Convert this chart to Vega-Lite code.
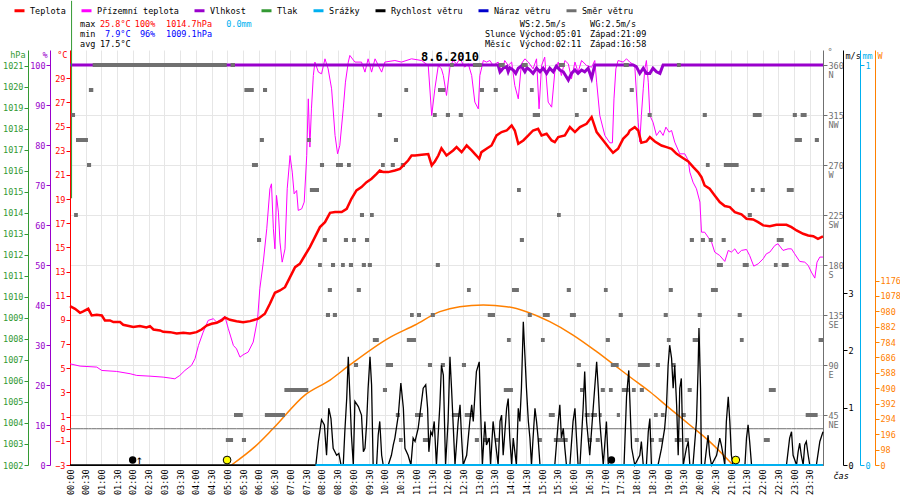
{
  "$schema": "https://vega.github.io/schema/vega-lite/v6.json",
  "description": "Weather station day chart 8.6.2010",
  "width": 753,
  "height": 415,
  "autosize": {"type": "none"},
  "padding": {"left": 70, "top": 50, "right": 77, "bottom": 35},
  "background": "white",
  "config": {
    "view": {"stroke": null},
    "font": "DejaVu Sans Mono",
    "axis": {
      "labelFont": "DejaVu Sans Mono", "labelFontSize": 8.5,
      "titleFont": "DejaVu Sans Mono", "titleFontSize": 8.5, "titleFontWeight": "normal",
      "grid": false, "tickSize": 4, "labelPadding": 1, "titleAngle": 0, "titleBaseline": "middle",
      "labelOverlap": false
    },
    "text": {"font": "DejaVu Sans Mono", "fontSize": 8.5}
  },
  "datasets": {
    "temp": [
      {"t":0,"v":10.14},{"t":0.16,"v":9.92},{"t":0.32,"v":9.59},{"t":0.42,"v":9.7},{"t":0.58,"v":9.92},{"t":0.69,"v":9.37},{"t":0.85,"v":9.43},{"t":1.01,"v":9.37},{"t":1.11,"v":8.96},{"t":1.27,"v":8.96},{"t":1.38,"v":8.82},{"t":1.59,"v":8.82},{"t":1.69,"v":8.6},{"t":2.01,"v":8.41},{"t":2.22,"v":8.49},{"t":2.43,"v":8.38},{"t":2.54,"v":8.49},{"t":2.65,"v":8.21},{"t":2.86,"v":8.13},{"t":2.96,"v":8.02},{"t":3.18,"v":7.99},{"t":3.39,"v":7.88},{"t":3.6,"v":7.94},{"t":3.81,"v":7.88},{"t":4.02,"v":7.99},{"t":4.18,"v":8.21},{"t":4.34,"v":8.54},{"t":4.5,"v":8.68},{"t":4.66,"v":8.77},{"t":4.82,"v":8.96},{"t":4.92,"v":9.21},{"t":5.08,"v":9.01},{"t":5.29,"v":8.9},{"t":5.5,"v":8.82},{"t":5.72,"v":8.9},{"t":5.98,"v":9.1},
      {"t":6.19,"v":9.51},{"t":6.35,"v":10.34},{"t":6.51,"v":11.25},{"t":6.67,"v":11.44},{"t":6.83,"v":11.71},{"t":6.99,"v":12.54},{"t":7.15,"v":13.37},{"t":7.3,"v":13.64},{"t":7.46,"v":14.33},{"t":7.62,"v":15.02},{"t":7.78,"v":15.85},{"t":7.94,"v":16.68},{"t":8.1,"v":17.09},{"t":8.26,"v":17.86},{"t":8.42,"v":17.92},{"t":8.63,"v":17.92},{"t":8.79,"v":18.19},{"t":8.94,"v":19.02},{"t":9.1,"v":19.71},{"t":9.26,"v":19.99},{"t":9.42,"v":20.4},{"t":9.58,"v":20.68},{"t":9.74,"v":21.09},{"t":9.84,"v":21.36},{"t":9.95,"v":21.23},{"t":10.11,"v":21.23},{"t":10.32,"v":21.36},{"t":10.48,"v":21.5},{"t":10.59,"v":21.78},{"t":10.74,"v":22.19},{"t":10.85,"v":22.6},{"t":10.96,"v":22.6},{"t":11.17,"v":22.66},{"t":11.38,"v":22.72},{"t":11.49,"v":21.78},{"t":11.59,"v":22.11},{"t":11.7,"v":22.6},{"t":11.8,"v":23.2},{"t":11.91,"v":22.8},
      {"t":11.96,"v":22.6},{"t":12.17,"v":23.02},{"t":12.28,"v":23.3},{"t":12.44,"v":22.88},{"t":12.6,"v":23.43},{"t":12.76,"v":23.02},{"t":12.91,"v":22.6},{"t":13.0,"v":22.33},{"t":13.07,"v":22.88},{"t":13.23,"v":23.16},{"t":13.39,"v":23.43},{"t":13.55,"v":24.26},{"t":13.71,"v":24.54},{"t":13.87,"v":24.67},{"t":14.03,"v":25.09},{"t":14.13,"v":24.67},{"t":14.24,"v":23.57},{"t":14.4,"v":23.85},{"t":14.56,"v":24.26},{"t":14.71,"v":24.67},{"t":14.87,"v":24.81},{"t":14.98,"v":24.26},{"t":15.14,"v":24.4},{"t":15.3,"v":23.85},{"t":15.4,"v":23.71},{"t":15.51,"v":24.12},{"t":15.72,"v":24.26},{"t":15.88,"v":24.95},{"t":16.04,"v":24.54},{"t":16.2,"v":24.95},{"t":16.41,"v":25.23},{"t":16.57,"v":25.78},{"t":16.73,"v":24.54},{"t":16.94,"v":23.85},{"t":17.1,"v":23.3},{"t":17.25,"v":22.83},{"t":17.41,"v":23.16},{"t":17.57,"v":23.98},{"t":17.73,"v":24.4},
      {"t":17.78,"v":24.67},{"t":17.94,"v":24.95},{"t":18.05,"v":24.67},{"t":18.15,"v":23.65},{"t":18.31,"v":23.76},{"t":18.42,"v":24.12},{"t":18.58,"v":23.76},{"t":18.79,"v":23.43},{"t":18.95,"v":23.3},{"t":19.11,"v":23.16},{"t":19.27,"v":22.74},{"t":19.48,"v":22.38},{"t":19.64,"v":22.11},{"t":19.8,"v":21.64},{"t":19.95,"v":21.23},{"t":20.06,"v":20.81},{"t":20.16,"v":20.12},{"t":20.32,"v":19.85},{"t":20.48,"v":19.3},{"t":20.64,"v":18.75},{"t":20.8,"v":18.42},{"t":20.96,"v":18.33},{"t":21.12,"v":17.92},{"t":21.33,"v":17.73},{"t":21.49,"v":17.37},{"t":21.7,"v":17.31},{"t":21.86,"v":17.09},{"t":22.02,"v":16.82},{"t":22.23,"v":16.76},{"t":22.44,"v":16.87},{"t":22.76,"v":16.87},{"t":22.92,"v":16.68},{"t":23.08,"v":16.4},{"t":23.29,"v":16.13},{"t":23.45,"v":15.99},{"t":23.61,"v":15.93},{"t":23.76,"v":15.71},{"t":23.92,"v":15.91}
    ],
    "ground": [
      {"t":0,"v":5.37},{"t":0.32,"v":5.18},{"t":0.85,"v":5.1},{"t":1.01,"v":4.82},{"t":1.48,"v":4.74},{"t":1.91,"v":4.55},{"t":2.12,"v":4.41},{"t":2.54,"v":4.35},{"t":2.96,"v":4.27},{"t":3.18,"v":4.19},{"t":3.33,"v":4.13},{"t":3.49,"v":4.41},{"t":3.65,"v":4.82},{"t":3.86,"v":5.24},{"t":3.97,"v":5.79},{"t":4.08,"v":6.89},{"t":4.23,"v":7.99},{"t":4.39,"v":8.96},{"t":4.55,"v":9.1},{"t":4.66,"v":8.82},{"t":4.82,"v":9.1},{"t":4.92,"v":9.29},{"t":5.03,"v":8.27},{"t":5.19,"v":6.89},{"t":5.29,"v":6.61},{"t":5.4,"v":5.92},{"t":5.5,"v":6.12},{"t":5.66,"v":6.34},{"t":5.82,"v":7.17},{"t":5.96,"v":9.1},
      {"t":6.03,"v":11.58},{"t":6.14,"v":13.78},{"t":6.25,"v":16.54},{"t":6.35,"v":19.85},{"t":6.4,"v":20.26},{"t":6.46,"v":16.54},{"t":6.51,"v":14.88},{"t":6.56,"v":19.3},{"t":6.62,"v":17.92},{"t":6.67,"v":15.44},{"t":6.74,"v":13.78},{"t":6.83,"v":14.88},{"t":6.9,"v":19.85},{"t":6.99,"v":22.6},{"t":7.06,"v":21.23},{"t":7.12,"v":19.43},{"t":7.2,"v":19.71},{"t":7.25,"v":18.06},{"t":7.36,"v":18.19},{"t":7.44,"v":18.75},{"t":7.52,"v":22.6},{"t":7.57,"v":27.29},{"t":7.62,"v":23.3},{"t":7.67,"v":26.46},{"t":7.73,"v":29.22},{"t":7.78,"v":30.33},{"t":7.89,"v":29.5},{"t":7.99,"v":29.36},{"t":8.1,"v":30.6},{"t":8.2,"v":29.77},{"t":8.31,"v":28.12},{"t":8.42,"v":24.26},{"t":8.5,"v":22.74},{"t":8.57,"v":23.43},{"t":8.68,"v":26.46},{"t":8.75,"v":28.67},{"t":8.84,"v":30.33},{"t":8.89,"v":30.88},{"t":9.05,"v":30.33},{"t":9.26,"v":30.33},{"t":9.37,"v":29.5},{"t":9.47,"v":30.6},{"t":9.58,"v":29.5},{"t":9.69,"v":30.6},{"t":9.9,"v":29.5},{"t":10.0,"v":30.33},{"t":10.32,"v":30.46},{"t":10.53,"v":30.33},{"t":10.85,"v":30.6},{"t":11.17,"v":30.46},{"t":11.38,"v":30.05},{"t":11.49,"v":25.91},{"t":11.59,"v":28.12},{"t":11.7,"v":30.05},{"t":11.8,"v":29.77},
      {"t":11.86,"v":29.22},{"t":11.96,"v":27.57},{"t":12.07,"v":29.91},{"t":12.17,"v":30.46},{"t":12.28,"v":30.19},{"t":12.39,"v":30.6},{"t":12.54,"v":29.91},{"t":12.65,"v":30.19},{"t":12.76,"v":29.22},{"t":12.86,"v":27.02},{"t":12.97,"v":26.46},{"t":13.02,"v":29.22},{"t":13.13,"v":30.46},{"t":13.23,"v":30.33},{"t":13.34,"v":30.46},{"t":13.44,"v":30.05},{"t":13.6,"v":30.33},{"t":13.71,"v":29.5},{"t":13.81,"v":30.46},{"t":13.92,"v":30.05},{"t":14.03,"v":30.33},{"t":14.13,"v":28.39},{"t":14.24,"v":27.29},{"t":14.34,"v":30.19},{"t":14.45,"v":30.6},{"t":14.56,"v":30.33},{"t":14.71,"v":29.77},{"t":14.82,"v":30.6},{"t":14.9,"v":26.46},{"t":14.98,"v":30.05},{"t":15.08,"v":30.74},{"t":15.19,"v":27.02},{"t":15.3,"v":26.6},{"t":15.4,"v":29.5},{"t":15.51,"v":30.33},{"t":15.61,"v":29.22},{"t":15.72,"v":30.46},{"t":15.83,"v":30.19},{"t":15.93,"v":28.95},{"t":16.04,"v":30.33},{"t":16.14,"v":29.5},{"t":16.25,"v":30.46},{"t":16.41,"v":30.05},{"t":16.57,"v":29.91},{"t":16.67,"v":30.46},{"t":16.73,"v":28.67},{"t":16.83,"v":25.91},{"t":16.99,"v":24.26},{"t":17.15,"v":23.65},{"t":17.23,"v":23.65},{"t":17.28,"v":27.29},{"t":17.34,"v":29.77},{"t":17.41,"v":30.46},{"t":17.57,"v":30.33},{"t":17.68,"v":30.6},
      {"t":17.78,"v":30.33},{"t":17.94,"v":30.05},{"t":18.05,"v":25.36},{"t":18.1,"v":23.71},{"t":18.15,"v":25.91},{"t":18.21,"v":28.12},{"t":18.26,"v":29.77},{"t":18.31,"v":30.46},{"t":18.37,"v":28.67},{"t":18.42,"v":25.91},{"t":18.52,"v":25.36},{"t":18.63,"v":24.26},{"t":18.74,"v":24.67},{"t":18.84,"v":24.26},{"t":18.93,"v":24.95},{"t":19.03,"v":24.54},{"t":19.11,"v":24.67},{"t":19.21,"v":23.71},{"t":19.37,"v":22.74},{"t":19.53,"v":22.74},{"t":19.64,"v":22.19},{"t":19.69,"v":21.23},{"t":19.79,"v":20.4},{"t":19.9,"v":19.85},{"t":20.01,"v":18.75},{"t":20.06,"v":16.26},{"t":20.16,"v":16.26},{"t":20.27,"v":15.85},{"t":20.38,"v":15.44},{"t":20.48,"v":14.61},{"t":20.64,"v":14.33},{"t":20.8,"v":13.84},{"t":20.91,"v":14.75},{"t":21.01,"v":14.61},{"t":21.12,"v":14.88},{"t":21.22,"v":14.47},{"t":21.33,"v":14.75},{"t":21.49,"v":14.83},{"t":21.59,"v":14.33},{"t":21.72,"v":13.45},{"t":21.86,"v":13.64},{"t":22.02,"v":14.06},{"t":22.12,"v":14.47},{"t":22.23,"v":14.61},{"t":22.39,"v":15.16},{"t":22.49,"v":15.3},{"t":22.65,"v":14.75},{"t":22.81,"v":14.88},{"t":22.92,"v":14.88},{"t":23.02,"v":14.47},{"t":23.18,"v":13.84},{"t":23.34,"v":13.78},{"t":23.45,"v":13.51},{"t":23.55,"v":12.96},{"t":23.66,"v":12.46},{"t":23.73,"v":13.78},{"t":23.82,"v":14.2},{"t":23.92,"v":14.2}
    ],
    "hum": [
      {"t":0,"v":100},{"t":13.6,"v":100},{"t":13.66,"v":98.3},{"t":13.76,"v":99.2},{"t":13.87,"v":99.6},{"t":13.92,"v":98.3},{"t":13.97,"v":99.3},{"t":14.08,"v":98.75},{"t":14.16,"v":97.9},{"t":14.24,"v":99.2},{"t":14.34,"v":99.75},{"t":14.45,"v":98.3},{"t":14.52,"v":99.3},{"t":14.61,"v":98.75},{"t":14.71,"v":97.9},{"t":14.82,"v":99.2},{"t":14.93,"v":98.3},{"t":15.03,"v":99.2},{"t":15.14,"v":97.9},{"t":15.24,"v":99.2},{"t":15.35,"v":98.3},{"t":15.45,"v":99.75},{"t":15.56,"v":98.75},{"t":15.67,"v":98.3},{"t":15.83,"v":96.25},{"t":15.93,"v":97.9},{"t":16.04,"v":98.75},{"t":16.14,"v":97.9},{"t":16.25,"v":98.75},{"t":16.35,"v":98.3},{"t":16.46,"v":99.2},{"t":16.57,"v":96.7},{"t":16.67,"v":100},{"t":17.89,"v":100},{"t":17.99,"v":99.6},{"t":18.1,"v":97.9},{"t":18.21,"v":99.2},{"t":18.31,"v":97.9},{"t":18.42,"v":97.9},{"t":18.52,"v":99.2},{"t":18.63,"v":98.3},{"t":18.74,"v":97.9},{"t":18.84,"v":100},{"t":23.92,"v":100}
    ],
    "press": [{"t":0.05,"v":1014.7},{"t":0.05,"v":1024.1}],
    "rain": [{"t":7.8,"v":0},{"t":23.92,"v":0}],
    "rad": [
      {"t":5.13,"v":0},{"t":5.875,"v":117},{"t":6.46,"v":234},{"t":7.46,"v":446},{"t":8.26,"v":542},{"t":8.89,"v":638},{"t":10.11,"v":808},{"t":10.96,"v":893},{"t":11.75,"v":978},{"t":12.38,"v":1010},{"t":13.13,"v":1020},{"t":13.87,"v":1010},{"t":14.5,"v":978},{"t":15.24,"v":914},{"t":15.98,"v":829},{"t":16.73,"v":723},{"t":17.36,"v":627},{"t":17.78,"v":563},{"t":18.42,"v":467},{"t":19.05,"v":361},{"t":19.69,"v":255},{"t":20.32,"v":149},{"t":20.96,"v":21},{"t":21.06,"v":0}
    ],
    "wind": [
      {"t":0,"v":0},{"t":7.81,"v":0},{"t":7.89,"v":0.41},{"t":7.99,"v":0.79},{"t":8.08,"v":0.7},{"t":8.15,"v":0.17},{"t":8.22,"v":0.99},{"t":8.29,"v":0.81},{"t":8.36,"v":0.29},{"t":8.47,"v":0.17},{"t":8.54,"v":0.2},{"t":8.61,"v":0},{"t":8.68,"v":0},{"t":8.73,"v":0.58},{"t":8.79,"v":1.16},{"t":8.84,"v":1.89},{"t":8.89,"v":1.22},{"t":8.94,"v":0.52},{"t":9.0,"v":0},{"t":9.05,"v":1.11},{"t":9.16,"v":1.02},{"t":9.26,"v":0.87},{"t":9.32,"v":0.23},{"t":9.37,"v":0.29},{"t":9.42,"v":0.7},{"t":9.47,"v":1.34},{"t":9.53,"v":1.89},{"t":9.58,"v":1.4},{"t":9.63,"v":0},{"t":9.74,"v":0},{"t":9.79,"v":0.52},{"t":9.84,"v":0.76},{"t":9.9,"v":0.17},{"t":9.95,"v":0},{"t":10.11,"v":0},{"t":10.21,"v":0.17},{"t":10.27,"v":0.35},{"t":10.32,"v":0.47},{"t":10.43,"v":0.87},{"t":10.51,"v":1.43},{"t":10.59,"v":0.99},{"t":10.64,"v":0.29},{"t":10.74,"v":0.17},{"t":10.83,"v":0},{"t":10.9,"v":0.47},{"t":10.96,"v":0.41},{"t":11.06,"v":0.64},{"t":11.22,"v":1.34},{"t":11.3,"v":1.4},{"t":11.36,"v":0.99},{"t":11.4,"v":0.23},{"t":11.46,"v":0.58},{"t":11.51,"v":0.52},{"t":11.57,"v":0.76},{"t":11.64,"v":0},{"t":11.75,"v":1.05},{"t":11.8,"v":1.74},{"t":11.86,"v":1.57},{"t":11.93,"v":0},
      {"t":12.01,"v":0.76},{"t":12.07,"v":1.89},{"t":12.12,"v":1.34},{"t":12.23,"v":0},{"t":12.33,"v":0.76},{"t":12.39,"v":1.05},{"t":12.44,"v":0.47},{"t":12.49,"v":0},{"t":12.6,"v":0.17},{"t":12.7,"v":0.76},{"t":12.76,"v":1.05},{"t":12.81,"v":0.76},{"t":12.91,"v":1.63},{"t":13.0,"v":1.8},{"t":13.04,"v":0.99},{"t":13.1,"v":0},{"t":13.18,"v":0.76},{"t":13.23,"v":0.35},{"t":13.32,"v":0.47},{"t":13.36,"v":0},{"t":13.44,"v":0.76},{"t":13.5,"v":0.47},{"t":13.6,"v":0},{"t":13.66,"v":0.76},{"t":13.71,"v":0.87},{"t":13.76,"v":0.17},{"t":13.87,"v":0.99},{"t":13.92,"v":1.16},{"t":13.97,"v":0.47},{"t":14.03,"v":0},{"t":14.08,"v":0.47},{"t":14.18,"v":0},{"t":14.24,"v":0.99},{"t":14.29,"v":0.76},{"t":14.34,"v":1.34},{"t":14.4,"v":2.5},{"t":14.45,"v":1.92},{"t":14.5,"v":1.34},{"t":14.56,"v":0.76},{"t":14.61,"v":0.47},{"t":14.66,"v":0},{"t":14.71,"v":0.47},{"t":14.77,"v":0.99},{"t":14.82,"v":0.76},{"t":14.87,"v":0.47},{"t":14.93,"v":0},{"t":15.4,"v":0},{"t":15.51,"v":0.76},{"t":15.56,"v":1.05},{"t":15.61,"v":0.47},{"t":15.67,"v":0.64},{"t":15.72,"v":0.29},{"t":15.77,"v":0},{"t":15.88,"v":0},{"t":15.98,"v":0.76},{"t":16.04,"v":0.99},{"t":16.09,"v":0.47},{"t":16.14,"v":0},{"t":16.2,"v":0},{"t":16.3,"v":0.99},{"t":16.35,"v":1.63},{"t":16.41,"v":0.76},{"t":16.51,"v":0.17},{"t":16.62,"v":0.99},{"t":16.73,"v":1.8},{"t":16.78,"v":1.34},{"t":16.83,"v":0.76},{"t":16.94,"v":0},{"t":17.04,"v":0.76},{"t":17.1,"v":0},{"t":17.6,"v":0},{"t":17.68,"v":1.2},{"t":17.75,"v":1.65},{"t":17.84,"v":0.3},{"t":17.94,"v":0},
      {"t":18.1,"v":0.17},{"t":18.15,"v":0.41},{"t":18.21,"v":0},{"t":18.31,"v":0},{"t":18.37,"v":0.58},{"t":18.42,"v":0.81},{"t":18.47,"v":0},{"t":18.68,"v":0},{"t":18.79,"v":0.29},{"t":18.89,"v":0.64},{"t":18.95,"v":1.05},{"t":19.0,"v":1.74},{"t":19.05,"v":2.09},{"t":19.11,"v":1.86},{"t":19.16,"v":1.34},{"t":19.21,"v":1.74},{"t":19.27,"v":1.05},{"t":19.32,"v":0.17},{"t":19.37,"v":1.34},{"t":19.42,"v":1.51},{"t":19.48,"v":0},{"t":19.58,"v":0.29},{"t":19.64,"v":0.41},{"t":19.69,"v":0},{"t":19.79,"v":0},{"t":19.9,"v":0.76},{"t":19.95,"v":1.63},{"t":19.98,"v":2.39},{"t":20.03,"v":1.34},{"t":20.06,"v":0},{"t":20.16,"v":0},{"t":20.22,"v":0.29},{"t":20.27,"v":0.52},{"t":20.32,"v":0.17},{"t":20.38,"v":0},{"t":20.54,"v":0.17},{"t":20.64,"v":0.47},{"t":20.69,"v":0.35},{"t":20.75,"v":0.17},{"t":20.8,"v":0},{"t":20.85,"v":0.76},{"t":20.91,"v":1.19},{"t":20.96,"v":0.76},{"t":21.01,"v":0.17},{"t":21.06,"v":0},{"t":21.44,"v":0},{"t":21.49,"v":0.47},{"t":21.54,"v":0.7},{"t":21.59,"v":0.41},{"t":21.65,"v":0},{"t":22.76,"v":0},{"t":22.86,"v":0.47},{"t":22.92,"v":0.58},{"t":22.97,"v":0.17},{"t":23.08,"v":0},{"t":23.13,"v":0.23},{"t":23.18,"v":0.38},{"t":23.23,"v":0.17},{"t":23.29,"v":0},{"t":23.34,"v":0.35},{"t":23.39,"v":0.41},{"t":23.45,"v":0.17},{"t":23.5,"v":0},{"t":23.71,"v":0},{"t":23.82,"v":0.41},{"t":23.92,"v":0.58}
    ],
    "dir": [
      {"t":0.72,"b":4.98,"d":360},{"t":5.1,"b":5.24,"d":360},{"t":12.07,"b":12.19,"d":360},{"t":12.8,"b":13.08,"d":360},{"t":13.62,"b":13.81,"d":360},{"t":14.35,"b":14.54,"d":360},{"t":15.53,"b":15.72,"d":360},{"t":17.59,"b":17.75,"d":360},{"t":19.28,"b":19.4,"d":360},
      {"t":0.6,"b":0.74,"d":337.5},{"t":5.54,"b":5.84,"d":337.5},{"t":6.13,"b":6.26,"d":337.5},{"t":10.62,"b":10.74,"d":337.5},{"t":11.69,"b":11.92,"d":337.5},{"t":13.02,"b":13.15,"d":337.5},{"t":13.46,"b":13.59,"d":337.5},{"t":14.61,"b":14.73,"d":337.5},{"t":16.29,"b":16.42,"d":337.5},{"t":17.78,"b":17.91,"d":337.5},
      {"t":0.03,"b":0.16,"d":315},{"t":9.78,"b":9.91,"d":315},{"t":11.53,"b":11.65,"d":315},{"t":11.94,"b":12.07,"d":315},{"t":12.35,"b":12.48,"d":315},{"t":14.7,"b":14.93,"d":315},{"t":16.04,"b":16.16,"d":315},{"t":18.35,"b":18.48,"d":315},{"t":20.1,"b":20.23,"d":315},{"t":21.69,"b":21.97,"d":315},{"t":22.96,"b":23.09,"d":315},{"t":23.21,"b":23.4,"d":315},
      {"t":0.19,"b":0.57,"d":292.5},{"t":6.03,"b":6.16,"d":292.5},{"t":7.53,"b":7.65,"d":292.5},{"t":10.29,"b":10.42,"d":292.5},{"t":23.02,"b":23.25,"d":292.5},{"t":23.66,"b":23.79,"d":292.5},
      {"t":0.54,"b":0.67,"d":270},{"t":5.78,"b":5.97,"d":270},{"t":7.94,"b":8.07,"d":270},{"t":8.45,"b":8.67,"d":270},{"t":8.8,"b":8.92,"d":270},{"t":9.88,"b":10.0,"d":270},{"t":10.19,"b":10.32,"d":270},{"t":10.51,"b":10.64,"d":270},{"t":20.2,"b":20.32,"d":270},{"t":20.77,"b":21.24,"d":270},
      {"t":7.62,"b":7.91,"d":247.5},{"t":14.2,"b":14.32,"d":247.5},{"t":21.63,"b":21.75,"d":247.5},{"t":21.94,"b":22.07,"d":247.5},{"t":22.77,"b":22.99,"d":247.5},
      {"t":0.13,"b":0.25,"d":225},{"t":9.21,"b":9.34,"d":225},{"t":9.53,"b":9.65,"d":225},{"t":15.47,"b":15.59,"d":225},{"t":21.53,"b":21.66,"d":225},
      {"t":5.94,"b":6.07,"d":202.5},{"t":8.03,"b":8.16,"d":202.5},{"t":8.7,"b":8.83,"d":202.5},{"t":8.96,"b":9.08,"d":202.5},{"t":9.37,"b":9.5,"d":202.5},{"t":14.29,"b":14.42,"d":202.5},{"t":19.69,"b":19.82,"d":202.5},{"t":20.04,"b":20.17,"d":202.5},{"t":20.29,"b":20.42,"d":202.5},{"t":20.7,"b":20.83,"d":202.5},{"t":22.45,"b":22.67,"d":202.5},
      {"t":7.88,"b":8.0,"d":180},{"t":8.29,"b":8.42,"d":180},{"t":8.61,"b":8.73,"d":180},{"t":8.86,"b":8.99,"d":180},{"t":9.27,"b":9.4,"d":180},{"t":9.46,"b":9.59,"d":180},{"t":11.62,"b":11.75,"d":180},{"t":20.55,"b":20.74,"d":180},{"t":21.37,"b":21.56,"d":180},{"t":22.36,"b":22.48,"d":180},{"t":22.61,"b":22.83,"d":180},
      {"t":8.19,"b":8.32,"d":157.5},{"t":9.11,"b":9.24,"d":157.5},{"t":12.61,"b":12.73,"d":157.5},{"t":14.04,"b":14.26,"d":157.5},{"t":15.78,"b":15.91,"d":157.5},{"t":16.96,"b":17.08,"d":157.5},{"t":19.02,"b":19.15,"d":157.5},{"t":20.36,"b":20.58,"d":157.5},
      {"t":8.13,"b":8.26,"d":135},{"t":8.35,"b":8.48,"d":135},{"t":10.8,"b":10.92,"d":135},{"t":11.02,"b":11.15,"d":135},{"t":11.46,"b":11.59,"d":135},{"t":13.27,"b":13.5,"d":135},{"t":14.54,"b":14.67,"d":135},{"t":15.02,"b":15.24,"d":135},{"t":15.88,"b":16.07,"d":135},{"t":17.43,"b":17.56,"d":135},{"t":18.86,"b":18.99,"d":135},{"t":19.94,"b":20.07,"d":135},{"t":21.21,"b":21.34,"d":135},
      {"t":9.62,"b":9.81,"d":112.5},{"t":10.7,"b":10.99,"d":112.5},{"t":13.88,"b":14.0,"d":112.5},{"t":14.96,"b":15.08,"d":112.5},{"t":17.02,"b":17.15,"d":112.5},{"t":18.96,"b":19.08,"d":112.5},{"t":19.78,"b":19.97,"d":112.5},{"t":21.28,"b":21.4,"d":112.5},{"t":23.78,"b":23.92,"d":112.5},
      {"t":9.02,"b":9.15,"d":90},{"t":10.03,"b":10.26,"d":90},{"t":11.37,"b":11.5,"d":90},{"t":11.78,"b":11.91,"d":90},{"t":12.45,"b":12.58,"d":90},{"t":16.1,"b":16.23,"d":90},{"t":17.18,"b":17.43,"d":90},{"t":18.04,"b":18.42,"d":90},{"t":18.61,"b":18.74,"d":90},{"t":19.12,"b":19.24,"d":90},
      {"t":6.81,"b":7.57,"d":67.5},{"t":9.94,"b":10.07,"d":67.5},{"t":13.78,"b":14.07,"d":67.5},{"t":16.2,"b":16.32,"d":67.5},{"t":16.86,"b":16.99,"d":67.5},{"t":17.12,"b":17.24,"d":67.5},{"t":17.53,"b":17.75,"d":67.5},{"t":17.85,"b":17.97,"d":67.5},{"t":18.1,"b":18.23,"d":67.5},{"t":19.62,"b":19.75,"d":67.5},{"t":22.2,"b":22.42,"d":67.5},
      {"t":5.21,"b":5.49,"d":45},{"t":6.19,"b":6.83,"d":45},{"t":10.35,"b":10.48,"d":45},{"t":10.96,"b":11.21,"d":45},{"t":12.13,"b":12.42,"d":45},{"t":12.54,"b":12.8,"d":45},{"t":15.21,"b":15.4,"d":45},{"t":16.35,"b":16.51,"d":45},{"t":16.54,"b":16.74,"d":45},{"t":16.8,"b":16.89,"d":45},{"t":17.37,"b":17.47,"d":45},{"t":18.55,"b":18.67,"d":45},{"t":18.77,"b":18.89,"d":45},{"t":19.43,"b":19.56,"d":45},{"t":23.37,"b":23.75,"d":45},
      {"t":4.95,"b":5.18,"d":22.5},{"t":5.46,"b":5.59,"d":22.5},{"t":10.45,"b":10.57,"d":22.5},{"t":11.21,"b":11.43,"d":22.5},{"t":12.86,"b":12.99,"d":22.5},{"t":13.12,"b":13.34,"d":22.5},{"t":13.5,"b":13.62,"d":22.5},{"t":14.86,"b":14.99,"d":22.5},{"t":15.37,"b":15.81,"d":22.5},{"t":16.45,"b":16.58,"d":22.5},{"t":16.7,"b":16.83,"d":22.5},{"t":17.94,"b":18.07,"d":22.5},{"t":18.42,"b":18.55,"d":22.5},{"t":18.7,"b":18.83,"d":22.5},{"t":19.21,"b":19.43,"d":22.5},{"t":19.53,"b":19.66,"d":22.5},{"t":22.04,"b":22.23,"d":22.5}
    ],
    "astro": [
      {"t":4.99,"T":-2.59,"k":"sun"},{"t":21.15,"T":-2.59,"k":"sun"},
      {"t":1.99,"T":-2.59,"k":"moon"},{"t":17.2,"T":-2.59,"k":"moon"}
    ],
    "notes": [
      {"t":0.32,"T":33.44,"s":"max","k":"lbl"},{"t":0.95,"T":33.44,"s":"25.8°C","k":"max"},{"t":2.06,"T":33.44,"s":"100%","k":"max"},{"t":3.05,"T":33.44,"s":"1014.7hPa","k":"max"},{"t":4.96,"T":33.44,"s":"0.0mm","k":"rain"},
      {"t":14.29,"T":33.44,"s":"WS:2.5m/s","k":"lbl"},{"t":16.52,"T":33.44,"s":"WG:2.5m/s","k":"lbl"},
      {"t":0.32,"T":32.63,"s":"min","k":"lbl"},{"t":1.11,"T":32.63,"s":"7.9°C","k":"min"},{"t":2.22,"T":32.63,"s":"96%","k":"min"},{"t":3.05,"T":32.63,"s":"1009.1hPa","k":"min"},
      {"t":13.18,"T":32.63,"s":"Slunce","k":"lbl"},{"t":14.29,"T":32.63,"s":"Východ:05:01","k":"lbl"},{"t":16.52,"T":32.63,"s":"Západ:21:09","k":"lbl"},
      {"t":0.32,"T":31.83,"s":"avg","k":"lbl"},{"t":0.95,"T":31.83,"s":"17.5°C","k":"lbl"},
      {"t":13.18,"T":31.83,"s":"Měsíc","k":"lbl"},{"t":14.29,"T":31.83,"s":"Východ:02:11","k":"lbl"},{"t":16.52,"T":31.83,"s":"Západ:16:58","k":"lbl"},
      {"t":2.2,"T":-2.55,"s":"↑","k":"arrow"},
      {"t":12.07,"T":30.71,"s":"8.6.2010","k":"date"}
    ]
  },
  "encoding": {
    "x": {"field": "t", "type": "quantitative", "scale": {"domain": [0, 23.92], "nice": false, "zero": false},
      "axis": {
        "values": [0,0.5,1,1.5,2,2.5,3,3.5,4,4.5,5,5.5,6,6.5,7,7.5,8,8.5,9,9.5,10,10.5,11,11.5,12,12.5,13,13.5,14,14.5,15,15.5,16,16.5,17,17.5,18,18.5,19,19.5,20,20.5,21,21.5,22,22.5,23,23.5],
        "labelExpr": "(floor(datum.value) < 10 ? '0' : '') + floor(datum.value) + ':' + (datum.value % 1 > 0 ? '30' : '00')",
        "labelAngle": 270, "grid": true, "gridColor": "#e6e6e6", "ticks": false, "domainColor": "#000000",
        "labelPadding": 4, "labelBound": false, "labelFlush": false,
        "title": "čas", "titleX": 763, "titleY": 10, "titleAlign": "left", "titleFontStyle": "italic"
      }}
  },
  "layer": [
    {
      "data": {"name": "rad"},
      "mark": {"type": "line", "color": "#ff8000", "strokeWidth": 1.5, "interpolate": "monotone"},
      "encoding": {
        "y": {"field": "v", "type": "quantitative", "scale": {"domain": [0, 2647], "nice": false, "zero": false},
          "axis": {"orient": "right", "offset": 52, "values": [0,98,196,294,392,490,588,686,784,882,980,1078,1176], "format": "d",
            "domainColor": "#ff8000", "tickColor": "#ff8000", "labelColor": "#ff8000",
            "title": "W", "titleColor": "#ff8000", "titleX": 2, "titleY": 5, "titleAlign": "left"}}
      }
    },
    {
      "data": {"name": "ground"},
      "mark": {"type": "line", "strokeWidth": 1},
      "encoding": {
        "y": {"field": "v", "type": "quantitative", "scale": {"domain": [-3, 31.33], "nice": false, "zero": false}, "axis": null},
        "color": {"datum": "Přízemní teplota", "type": "nominal",
          "scale": {"domain": ["Teplota", "Přízemní teplota", "Vlhkost", "Tlak", "Srážky", "Rychlost větru", "Náraz větru", "Směr větru"],
            "range": ["#ff0000", "#ff00ff", "#9900cc", "#339933", "#00b0f0", "#000000", "#0000cc", "#707070"]},
          "legend": {"orient": "none", "legendX": -57, "legendY": -46, "direction": "horizontal", "title": null,
            "symbolType": "stroke", "symbolStrokeWidth": 3, "symbolSize": 100,
            "labelFont": "DejaVu Sans Mono", "labelFontSize": 8.5, "labelColor": "#000000",
            "columnPadding": 9, "labelOffset": 4}}
      }
    },
    {
      "data": {"name": "hum"},
      "mark": {"type": "line", "strokeWidth": 3},
      "encoding": {
        "y": {"field": "v", "type": "quantitative", "scale": {"domain": [0, 103.75], "nice": false, "zero": false},
          "axis": {"orient": "left", "offset": 20, "values": [0,10,20,30,40,50,60,70,80,90,100], "format": "d",
            "domainColor": "#9900cc", "tickColor": "#9900cc", "labelColor": "#9900cc",
            "title": "%", "titleColor": "#9900cc", "titleX": -3, "titleY": 4, "titleAlign": "right"}},
        "color": {"datum": "Vlhkost", "type": "nominal"}
      }
    },
    {
      "data": {"name": "press"},
      "mark": {"type": "line", "strokeWidth": 1},
      "encoding": {
        "y": {"field": "v", "type": "quantitative", "scale": {"domain": [1002, 1021.76], "nice": false, "zero": false},
          "axis": {"orient": "left", "offset": 42, "values": [1002,1003,1004,1005,1006,1007,1008,1009,1010,1011,1012,1013,1014,1015,1016,1017,1018,1019,1020,1021], "format": "d",
            "domainColor": "#339933", "tickColor": "#339933", "labelColor": "#339933",
            "title": "hPa", "titleColor": "#339933", "titleX": -3, "titleY": 4, "titleAlign": "right"}},
        "color": {"datum": "Tlak", "type": "nominal"}
      }
    },
    {
      "data": {"name": "temp"},
      "mark": {"type": "line", "color": "#707070", "strokeWidth": 1},
      "encoding": {
        "y": {"datum": 0, "type": "quantitative", "scale": {"domain": [-3, 31.33], "nice": false, "zero": false}, "axis": null}
      }
    },
    {
      "data": {"name": "dir"},
      "mark": {"type": "rule", "strokeWidth": 4, "strokeCap": "butt"},
      "encoding": {
        "x2": {"field": "b"},
        "y": {"field": "d", "type": "quantitative", "scale": {"domain": [0, 373.5], "nice": false, "zero": false},
          "axis": {"orient": "right", "offset": 0, "values": [45,90,135,180,225,270,315,360],
            "grid": true, "gridColor": "#e6e6e6",
            "labelExpr": "[datum.label, datum.value == 45 ? 'NE' : datum.value == 90 ? 'E' : datum.value == 135 ? 'SE' : datum.value == 180 ? 'S' : datum.value == 225 ? 'SW' : datum.value == 270 ? 'W' : datum.value == 315 ? 'NW' : 'N']",
            "labelBaseline": "top", "labelOffset": -4, "labelLineHeight": 9,
            "domainColor": "#707070", "tickColor": "#707070", "labelColor": "#707070",
            "title": "°", "titleColor": "#707070", "titleX": 4, "titleY": 1, "titleAlign": "left"}},
        "color": {"datum": "Směr větru", "type": "nominal"}
      }
    },
    {
      "data": {"name": "temp"},
      "mark": {"type": "line", "strokeWidth": 2.5},
      "encoding": {
        "y": {"field": "v", "type": "quantitative", "scale": {"domain": [-3, 31.33], "nice": false, "zero": false},
          "axis": {"orient": "left", "offset": 0, "values": [-3,-1,0,1,3,5,7,9,11,13,15,17,19,21,23,25,27,29], "format": "d",
            "domainColor": "#ff0000", "tickColor": "#ff0000", "labelColor": "#ff0000",
            "title": "°C", "titleColor": "#ff0000", "titleX": -3, "titleY": 4, "titleAlign": "right"}},
        "color": {"datum": "Teplota", "type": "nominal"}
      }
    },
    {
      "data": {"name": "wind"},
      "mark": {"type": "line", "strokeWidth": 1.3},
      "encoding": {
        "y": {"field": "v", "type": "quantitative", "scale": {"domain": [0, 7.24], "nice": false, "zero": false},
          "axis": {"orient": "right", "offset": 20, "values": [0,1,2,3], "format": "d",
            "domainColor": "#000000", "tickColor": "#000000", "labelColor": "#000000",
            "title": "m/s", "titleColor": "#000000", "titleX": 2, "titleY": 5, "titleAlign": "left"}},
        "color": {"datum": "Rychlost větru", "type": "nominal"}
      }
    },
    {
      "data": {"name": "rain"},
      "mark": {"type": "line", "strokeWidth": 2},
      "encoding": {
        "y": {"field": "v", "type": "quantitative", "scale": {"domain": [0, 1.0375], "nice": false, "zero": false},
          "axis": {"orient": "right", "offset": 37, "values": [0,1], "format": "d",
            "domainColor": "#00b0f0", "tickColor": "#00b0f0", "labelColor": "#00b0f0",
            "title": "mm", "titleColor": "#00b0f0", "titleX": 2, "titleY": 5, "titleAlign": "left"}},
        "color": {"datum": "Srážky", "type": "nominal"}
      }
    },
    {
      "data": {"name": "astro"},
      "transform": [{"filter": "datum.k == 'sun'"}],
      "mark": {"type": "point", "shape": "circle", "filled": true, "fill": "#ffff00", "stroke": "#000000", "strokeWidth": 1, "size": 60, "opacity": 1},
      "encoding": {
        "y": {"field": "T", "type": "quantitative", "scale": {"domain": [-3, 31.33], "nice": false, "zero": false}, "axis": null}
      }
    },
    {
      "data": {"name": "astro"},
      "transform": [{"filter": "datum.k == 'moon'"}],
      "mark": {"type": "point", "shape": "circle", "filled": true, "color": "#000000", "size": 55, "opacity": 1},
      "encoding": {
        "y": {"field": "T", "type": "quantitative", "scale": {"domain": [-3, 31.33], "nice": false, "zero": false}, "axis": null}
      }
    },
    {
      "data": {"name": "notes"},
      "transform": [{"filter": "datum.k == 'lbl'"}],
      "mark": {"type": "text", "align": "left", "baseline": "middle", "color": "#000000"},
      "encoding": {
        "y": {"field": "T", "type": "quantitative", "scale": {"domain": [-3, 31.33], "nice": false, "zero": false}, "axis": null},
        "text": {"field": "s"}
      }
    },
    {
      "data": {"name": "notes"},
      "transform": [{"filter": "datum.k == 'max'"}],
      "mark": {"type": "text", "align": "left", "baseline": "middle", "color": "#ff0000"},
      "encoding": {
        "y": {"field": "T", "type": "quantitative", "scale": {"domain": [-3, 31.33], "nice": false, "zero": false}, "axis": null},
        "text": {"field": "s"}
      }
    },
    {
      "data": {"name": "notes"},
      "transform": [{"filter": "datum.k == 'min'"}],
      "mark": {"type": "text", "align": "left", "baseline": "middle", "color": "#0000ff"},
      "encoding": {
        "y": {"field": "T", "type": "quantitative", "scale": {"domain": [-3, 31.33], "nice": false, "zero": false}, "axis": null},
        "text": {"field": "s"}
      }
    },
    {
      "data": {"name": "notes"},
      "transform": [{"filter": "datum.k == 'rain'"}],
      "mark": {"type": "text", "align": "left", "baseline": "middle", "color": "#00b0f0"},
      "encoding": {
        "y": {"field": "T", "type": "quantitative", "scale": {"domain": [-3, 31.33], "nice": false, "zero": false}, "axis": null},
        "text": {"field": "s"}
      }
    },
    {
      "data": {"name": "notes"},
      "transform": [{"filter": "datum.k == 'arrow'"}],
      "mark": {"type": "text", "align": "center", "baseline": "middle", "color": "#000000", "fontSize": 12},
      "encoding": {
        "y": {"field": "T", "type": "quantitative", "scale": {"domain": [-3, 31.33], "nice": false, "zero": false}, "axis": null},
        "text": {"field": "s"}
      }
    },
    {
      "data": {"name": "notes"},
      "transform": [{"filter": "datum.k == 'date'"}],
      "mark": {"type": "text", "align": "center", "baseline": "middle", "color": "#000000", "fontSize": 12, "fontWeight": "bold"},
      "encoding": {
        "y": {"field": "T", "type": "quantitative", "scale": {"domain": [-3, 31.33], "nice": false, "zero": false}, "axis": null},
        "text": {"field": "s"}
      }
    }
  ],
  "resolve": {"scale": {"y": "independent"}}
}
